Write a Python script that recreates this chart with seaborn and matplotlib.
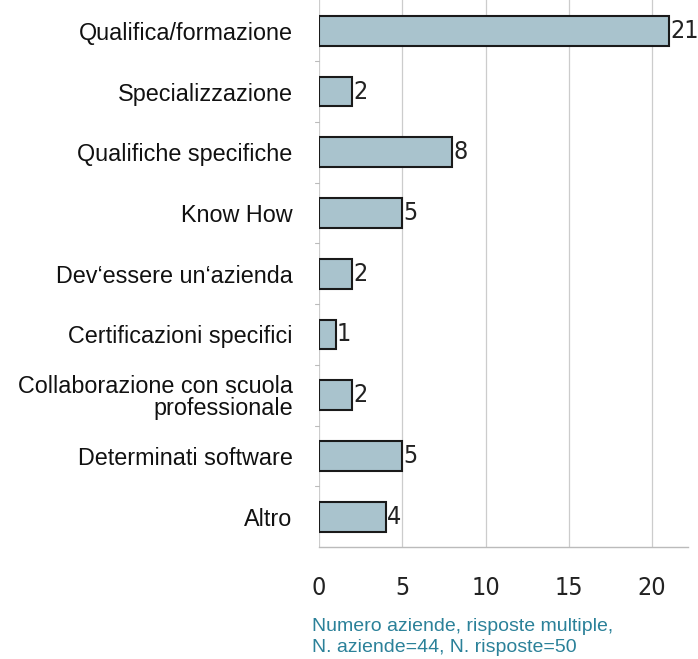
import matplotlib
matplotlib.use("Agg")
import matplotlib.pyplot as plt
import seaborn as sns
import pandas as pd

categories = ["Qualifica/formazione", "Specializzazione", "Qualifiche specifiche",
              "Know How", "Dev‘essere un‘azienda", "Certificazioni specifici",
              "Collaborazione con scuola\nprofessionale", "Determinati software", "Altro"]
values = [21, 2, 8, 5, 2, 1, 2, 5, 4]
xticks = [0, 5, 10, 15, 20]

sns.set_style("white")
plt.rcParams['font.family'] = ['Liberation Sans', 'DejaVu Sans']

df = pd.DataFrame({"cat": categories, "val": values})

num_font = dict(family=['DejaVu Sans'], stretch='condensed', fontsize=18, color="#222222")

fig = plt.figure(figsize=(6.98, 6.59), dpi=100)
ax = fig.add_axes([319/698, 1 - 547/659, (688-319)/698, 547/659 + 0.004])

sns.barplot(data=df, y="cat", x="val", orient="h", color="#a9c3cd",
            edgecolor="#1a1a1a", linewidth=1.5, width=0.49, saturation=1, ax=ax)

ax.set_xlim(0, 22.15)
ax.set_ylim(8.5, -0.55)
ax.set_xticks(xticks)
ax.set_xticklabels([str(t) for t in xticks], **num_font)
ax.tick_params(axis='x', length=6, width=0.8, color="#aaaaaa", pad=15)
ax.set_yticks(range(len(categories)))
ax.set_yticklabels(categories, fontsize=16.8, color="#111111", linespacing=0.95)
ax.tick_params(axis='y', length=0, pad=19)
ax.set_xlabel("")
ax.set_ylabel("")
ax.grid(axis='x', color="#cccccc", linewidth=0.9)
ax.set_axisbelow(True)
for s in ["top", "right", "left"]:
    ax.spines[s].set_visible(False)
ax.spines["bottom"].set_color("#bbbbbb")
ax.spines["bottom"].set_linewidth(1.0)

# small ticks between categories on left
for i in range(len(categories) - 1):
    ax.plot([-0.25, 0], [i + 0.5, i + 0.5], color="#bbbbbb", lw=0.8, clip_on=False)

for i, v in enumerate(values):
    ax.text(v + 0.08, i, str(v), va="center", ha="left", **num_font)

fig.text(312/698, 1 - 618/659, "Numero aziende, risposte multiple,\nN. aziende=44, N. risposte=50",
         color="#2b8199", fontsize=14, va="top", ha="left", linespacing=1.3)

fig.savefig("out.png", dpi=100)
